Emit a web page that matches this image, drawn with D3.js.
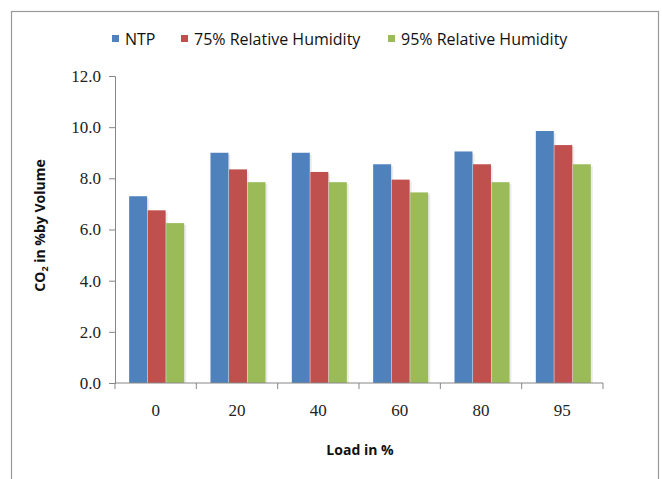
<!DOCTYPE html>
<html><head><meta charset="utf-8">
<script src="https://cdn.jsdelivr.net/npm/d3@7"></script>
<style>body{margin:0;background:#fff}</style>
</head><body>
<svg id="c" width="662" height="479"></svg>
<script>
const categories = ["0","20","40","60","80","95"];
const seriesNames = ["NTP","75% Relative Humidity","95% Relative Humidity"];
const ntp = [7.3, 9.0, 9.0, 8.55, 9.05, 9.85];
const rh75 = [6.75, 8.35, 8.25, 7.95, 8.55, 9.3];
const rh95 = [6.25, 7.85, 7.85, 7.45, 7.85, 8.55];
const yTicks = [0,2,4,6,8,10,12];
const colors = ["#4F81BD","#C0504D","#9BBB59"];

const series = [ntp, rh75, rh95];
const svg = d3.select("#c");
const m = {left:115, right:603, top:76, bottom:383};

svg.append("rect").attr("x",11.5).attr("y",11.5).attr("width",647).attr("height",480)
  .attr("fill","#fff").attr("stroke","#999").attr("stroke-width",1.2);

const x = d3.scaleBand().domain(categories).range([m.left,m.right]).paddingInner(0).paddingOuter(0);
const xi = d3.scaleBand().domain(d3.range(3)).range([0,x.bandwidth()]).paddingInner(0.03).paddingOuter(0.71);
const y = d3.scaleLinear().domain([0,12]).range([m.bottom,m.top]);

const g = svg.append("g");
categories.forEach((c,ci)=>{
  series.forEach((s,si)=>{
    const bx = x(c)+xi(si)+1;
    g.append("rect").attr("x",bx+2).attr("y",y(s[ci])+2).attr("width",xi.bandwidth())
      .attr("height",y(0)-y(s[ci])-2).attr("fill","#000").attr("opacity",0.08);
    g.append("rect").attr("x",bx).attr("y",y(s[ci])).attr("width",xi.bandwidth())
      .attr("height",y(0)-y(s[ci])).attr("fill",colors[si]);
  });
});

// y axis
const ya = svg.append("g").attr("transform",`translate(${m.left},0)`)
  .call(d3.axisLeft(y).tickValues(yTicks).tickFormat(d3.format(".1f")).tickSize(6).tickPadding(8));
ya.select(".domain").attr("stroke","#868686");
ya.selectAll(".tick line").attr("stroke","#868686");
ya.selectAll("text").attr("font-family","Liberation Serif").attr("font-size",17).attr("fill","#222");

// x axis
const xa = svg.append("g").attr("transform",`translate(0,${m.bottom})`)
  .call(d3.axisBottom(x).tickSize(0).tickPadding(21));
xa.select(".domain").attr("stroke","#868686").attr("d",`M${m.left},0H${m.right}`);
xa.selectAll(".tick line").remove();
xa.selectAll("text").attr("font-family","Liberation Serif").attr("font-size",17).attr("fill","#222");
const bounds = categories.map(c=>x(c)).concat([m.right]);
xa.selectAll(".bt").data(bounds).join("line").attr("class","bt")
  .attr("x1",d=>d).attr("x2",d=>d).attr("y1",0).attr("y2",6).attr("stroke","#868686");

// axis titles
const yt = svg.append("text").attr("transform",`translate(45,${(m.top+m.bottom)/2-4}) rotate(-90)`)
  .attr("text-anchor","middle").attr("font-family","Open Sans").attr("font-weight","bold")
  .attr("font-size",14).attr("fill","#111");
yt.append("tspan").text("CO");
yt.append("tspan").text("2").attr("font-size",9).attr("dy",3);
yt.append("tspan").text(" in %by Volume").attr("dy",-3);

svg.append("text").attr("x",360).attr("y",455).attr("text-anchor","middle")
  .attr("font-family","Open Sans").attr("font-weight","bold").attr("font-size",14).attr("fill","#111")
  .text("Load in %");

// legend
const legX = [112,181,388];
seriesNames.forEach((n,i)=>{
  svg.append("rect").attr("x",legX[i]).attr("y",35).attr("width",7).attr("height",7).attr("fill",colors[i]);
  svg.append("text").attr("x",legX[i]+13).attr("y",45).attr("font-family","Open Sans")
    .attr("font-size",16).attr("fill","#111").text(n);
});
</script>
</body></html>
